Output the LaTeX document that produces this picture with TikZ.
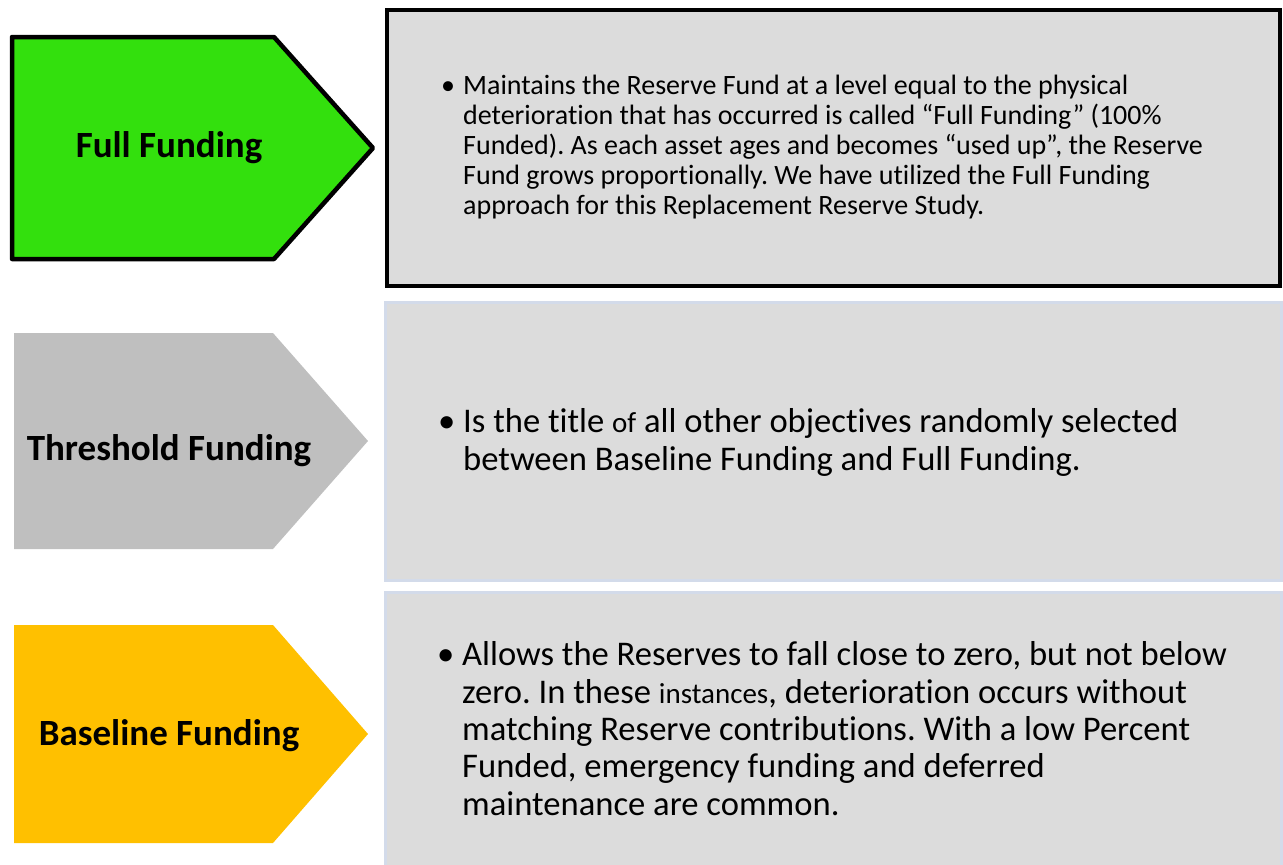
\documentclass[tikz,border=0pt]{standalone}
\usepackage{fontspec}
\setmainfont{Carlito}[Ligatures=NoCommon]
\frenchspacing
\definecolor{fullgreen}{RGB}{51,224,13}
\definecolor{threshgrey}{RGB}{191,191,191}
\definecolor{baseyellow}{RGB}{255,192,0}
\definecolor{panelfill}{RGB}{220,220,220}
\definecolor{panelrule}{RGB}{211,219,234}
\begin{document}
\begin{tikzpicture}[x=1pt,y=-1pt,
  tag/.style={font=\fontsize{37}{44}\selectfont\bfseries, inner sep=0pt, anchor=base},
  note/.style={align=left, inner sep=0pt, anchor=base west},
  small/.style={font=\fontsize{28}{29.8}\selectfont},
  large/.style={font=\fontsize{34.6}{37.3}\selectfont}]
  \useasboundingbox (0,0) rectangle (1283,865);
  % Arrow tags
  \draw[line width=4.5pt, line join=round, fill=fullgreen]
    (12,37) -- (274,37) -- (373,148) -- (274,259) -- (12,259) -- cycle;
  \fill[threshgrey] (14,333) -- (273,333) -- (368,441) -- (273,549) -- (14,549) -- cycle;
  \fill[baseyellow] (14,625) -- (273,625) -- (368,734) -- (273,843) -- (14,843) -- cycle;
  % Panels
  \draw[line width=4.5pt, fill=panelfill] (387,10) rectangle (1280,286);
  \draw[line width=3pt, draw=panelrule, fill=panelfill] (385,302) rectangle (1281,580);
  \draw[line width=3pt, draw=panelrule, fill=panelfill] (385,592) rectangle (1281,880);
  % Titles
  \node[tag] (full) at (169,157) {Full Funding};
  \node[tag] (threshold) at (169,460) {Threshold Funding};
  \node[tag] (baseline) at (169,745) {Baseline Funding};
  % Descriptions (anchored at the last baseline)
  \node[note, small] (fulltext) at (463,214)
    {\llap{\makebox[22pt][l]{•}}Maintains the Reserve Fund at a level equal to the physical\\
     deterioration that has occurred is called “Full Funding” (100\%\\
     Funded). As each asset ages and becomes “used up”, the Reserve\\
     Fund grows proportionally. We have utilized the Full Funding\\
     approach for this Replacement Reserve Study.};
  \node[note, large] (thresholdtext) at (463,470)
    {\llap{\makebox[25pt][l]{•}}Is the title {\fontsize{29}{37.3}\selectfont of} all other objectives randomly selected\\
     between Baseline Funding and Full Funding.};
  \node[note, large] (baselinetext) at (462,815)
    {\llap{\makebox[25pt][l]{•}}Allows the Reserves to fall close to zero, but not below\\
     zero. In these {\fontsize{29}{37.3}\selectfont instances}, deterioration occurs without\\
     matching Reserve contributions. With a low Percent\\
     Funded, emergency funding and deferred\\
     maintenance are common.};
\end{tikzpicture}
\end{document}
